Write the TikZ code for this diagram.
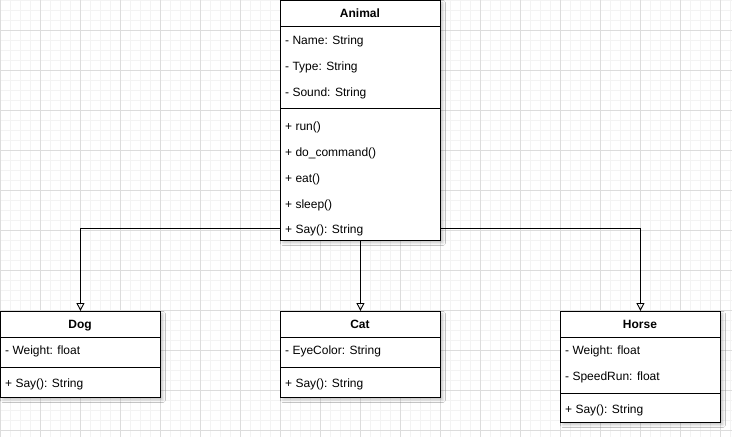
\documentclass[tikz,border=0pt]{standalone}
\usepackage{fontspec}
\setmainfont{Liberation Sans}
\usetikzlibrary{arrows.meta,shadows.blur}
\definecolor{minorgrid}{HTML}{F3F3F3}
\definecolor{majorgrid}{HTML}{DCDCDC}
\begin{document}
\begin{tikzpicture}[x=1pt,y=-1pt,
  classbox/.style={draw=black,line width=0.9pt,fill=white,anchor=north west,inner sep=0pt,
    blur shadow={shadow xshift=2.5pt,shadow yshift=-2.5pt,shadow blur radius=2.5pt,shadow opacity=22}},
  sepline/.style={draw=black,line width=0.9pt},
  member/.style={anchor=base west,inner sep=0pt,font=\fontsize{12}{14}\selectfont},
  header/.style={anchor=base,inner sep=0pt,font=\fontsize{12}{14}\selectfont\bfseries},
  conn/.style={draw=black,line width=0.9pt,-{Triangle[open,width=8pt,length=8pt,line width=0.9pt]}}
]
\useasboundingbox (0,0) rectangle (732,437);
\fill[white] (0,0) rectangle (732,437);
% grid
\foreach \x in {0,10,...,730} \draw[minorgrid,line width=0.8pt] (\x,0) -- (\x,437);
\foreach \y in {0,10,...,430} \draw[minorgrid,line width=0.8pt] (0,\y) -- (732,\y);
\foreach \x in {0,40,...,720} \draw[majorgrid,line width=0.8pt] (\x,0) -- (\x,437);
\foreach \y in {30,70,...,430} \draw[majorgrid,line width=0.8pt] (0,\y) -- (732,\y);

% boxes
\node[classbox,minimum width=160pt,minimum height=240pt] (animal) at (280,0) {};
\node[classbox,minimum width=160pt,minimum height=86pt] (dog) at (0,311) {};
\node[classbox,minimum width=160pt,minimum height=86pt] (cat) at (280,311) {};
\node[classbox,minimum width=160pt,minimum height=111pt] (horse) at (560,311) {};

% separators
\draw[sepline] (animal.west |- 0,26) -- (animal.east |- 0,26);
\draw[sepline] (animal.west |- 0,108) -- (animal.east |- 0,108);
\draw[sepline] (dog.west |- 0,337) -- (dog.east |- 0,337);
\draw[sepline] (dog.west |- 0,367) -- (dog.east |- 0,367);
\draw[sepline] (cat.west |- 0,337) -- (cat.east |- 0,337);
\draw[sepline] (cat.west |- 0,367) -- (cat.east |- 0,367);
\draw[sepline] (horse.west |- 0,337) -- (horse.east |- 0,337);
\draw[sepline] (horse.west |- 0,393) -- (horse.east |- 0,393);

% Animal texts
\node[header] (animalh) at (360,17.5) {Animal};
\node[member] (a1) at (285,44) {- Name: String};
\node[member] (a2) at (285,70) {- Type: String};
\node[member] (a3) at (285,96) {- Sound: String};
\node[member] (a4) at (285,130) {+ run()};
\node[member] (a5) at (285,156) {+ do\_command()};
\node[member] (a6) at (285,182) {+ eat()};
\node[member] (a7) at (285,208) {+ sleep()};
\node[member] (a8) at (285,233.5) {+ Say(): String};

% Dog texts
\node[header] (dogh) at (80,328) {Dog};
\node[member] (d1) at (5,354) {- Weight: float};
\node[member] (d2) at (5,387) {+ Say(): String};

% Cat texts
\node[header] (cath) at (360,328) {Cat};
\node[member] (c1) at (285,354) {- EyeColor: String};
\node[member] (c2) at (285,387) {+ Say(): String};

% Horse texts
\node[header] (horseh) at (640,328) {Horse};
\node[member] (h1) at (565,354) {- Weight: float};
\node[member] (h2) at (565,380) {- SpeedRun: float};
\node[member] (h3) at (565,413) {+ Say(): String};

% connectors
\draw[conn] (animal.south) -- (cat.north);
\draw[conn] ([yshift=12pt]animal.south west) -| (dog.north);
\draw[conn] ([yshift=12pt]animal.south east) -| (horse.north);
\end{tikzpicture}
\end{document}
